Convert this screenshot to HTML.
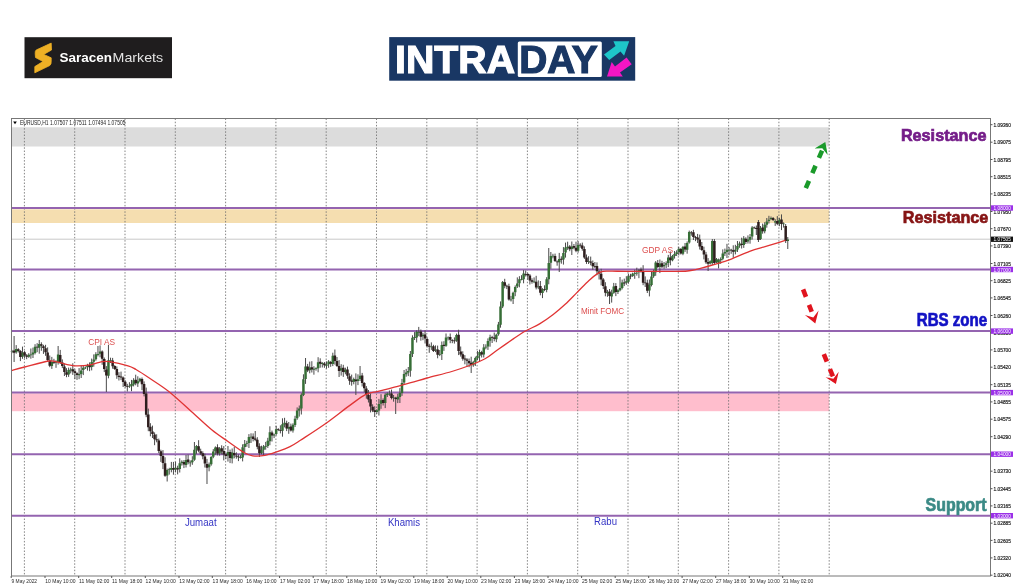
<!DOCTYPE html>
<html><head><meta charset="utf-8"><style>
html,body{margin:0;padding:0;background:#fff;width:1024px;height:587px;overflow:hidden}
svg{display:block;filter:blur(0.3px);font-family:"Liberation Sans",sans-serif}
</style></head><body>
<svg width="1024" height="587" viewBox="0 0 1024 587">
<rect width="1024" height="587" fill="#fff"/>
<!-- Saracen logo -->
<rect x="24.5" y="37.2" width="147.5" height="41" fill="#1f1d1e"/>
<path d="M51.2 43.1 L36.2 50 Q35 51 35.2 53.7 L35.5 57.5 L43 61.5 L34.8 66.6 L34.8 72.8 L49.8 65.5 Q51.5 64 51.2 61 L51.2 57.8 L43.7 54.4 L51.5 50 Z" fill="#eeb025" stroke="#eeb025" stroke-width="0.8" stroke-linejoin="round"/>
<text x="59.6" y="62" font-size="13.4" fill="#fff" font-weight="bold" textLength="52.5" lengthAdjust="spacingAndGlyphs">Saracen</text>
<text x="112.6" y="62" font-size="13.4" fill="#e4e4e4" textLength="50.5" lengthAdjust="spacingAndGlyphs">Markets</text>
<!-- Intraday logo -->
<rect x="389.2" y="37.1" width="246" height="43.6" fill="#193764"/>
<rect x="517.8" y="41.5" width="84" height="35.5" rx="1.5" fill="#fff"/>
<text x="395.1" y="72.6" font-size="39.5" font-weight="bold" fill="#fff" stroke="#fff" stroke-width="1.2" textLength="120" lengthAdjust="spacingAndGlyphs">INTRA</text>
<text x="519.3" y="72.7" font-size="39.5" font-weight="bold" fill="#193764" stroke="#193764" stroke-width="1.2" textLength="78.5" lengthAdjust="spacingAndGlyphs">DAY</text>
<path d="M604 54.5 L615.5 46 L613.4 41.2 L629.2 41.2 L624.1 55.7 L620.5 51.5 L609.2 60 Z" fill="#1ec6c9"/>
<path d="M631.7 64.2 L620 72.5 L622.8 76.6 L607 76.6 L611.7 62.1 L615 66.5 L626.6 57.4 Z" fill="#f516c4"/>
<!-- chart -->
<rect x="11.5" y="127.3" width="817.7" height="19.2" fill="#dcdcdc"/>
<rect x="11.5" y="209.3" width="817.7" height="13.7" fill="#f5deb0"/>
<rect x="11.5" y="393.3" width="817.7" height="17.9" fill="#ffbecd"/>
<g stroke="#707070" stroke-width="0.85" stroke-dasharray="1.5 1.7" fill="none"><line x1="24.4" y1="118.5" x2="24.4" y2="576"/><line x1="74.7" y1="118.5" x2="74.7" y2="576"/><line x1="125.0" y1="118.5" x2="125.0" y2="576"/><line x1="175.3" y1="118.5" x2="175.3" y2="576"/><line x1="225.6" y1="118.5" x2="225.6" y2="576"/><line x1="275.9" y1="118.5" x2="275.9" y2="576"/><line x1="326.2" y1="118.5" x2="326.2" y2="576"/><line x1="376.5" y1="118.5" x2="376.5" y2="576"/><line x1="426.8" y1="118.5" x2="426.8" y2="576"/><line x1="477.1" y1="118.5" x2="477.1" y2="576"/><line x1="527.4" y1="118.5" x2="527.4" y2="576"/><line x1="577.7" y1="118.5" x2="577.7" y2="576"/><line x1="628.0" y1="118.5" x2="628.0" y2="576"/><line x1="678.3" y1="118.5" x2="678.3" y2="576"/><line x1="728.6" y1="118.5" x2="728.6" y2="576"/><line x1="778.9" y1="118.5" x2="778.9" y2="576"/><line x1="829.2" y1="118.5" x2="829.2" y2="576"/></g>
<line x1="11.5" y1="239.2" x2="990.5" y2="239.2" stroke="#c8c8c8" stroke-width="1"/>
<g stroke="#9464b0" stroke-width="2" fill="none"><line x1="11.5" y1="208.0" x2="990.5" y2="208.0"/><line x1="11.5" y1="269.5" x2="990.5" y2="269.5"/><line x1="11.5" y1="331.1" x2="990.5" y2="331.1"/><line x1="11.5" y1="392.6" x2="990.5" y2="392.6"/><line x1="11.5" y1="454.2" x2="990.5" y2="454.2"/><line x1="11.5" y1="515.7" x2="990.5" y2="515.7"/></g>
<g stroke="#4a4a4a" stroke-width="1" fill="none"><path d="M12.00 349.9V353.2M14.10 336.0V362.0M16.19 345.1V353.7M18.29 348.2V352.5M20.39 350.1V361.1M22.48 346.6V358.8M24.58 350.8V358.4M26.68 354.1V359.2M28.77 353.2V357.8M30.87 348.5V358.7M32.97 347.6V358.0M35.06 344.2V354.4M37.16 343.2V352.2M39.26 340.0V353.7M41.35 342.3V350.8M43.45 344.8V353.9M45.55 344.8V355.8M47.64 347.4V361.6M49.74 355.5V367.2M51.84 356.9V368.9M53.93 358.8V364.0M56.03 360.3V367.8M58.13 346.0V364.6M60.22 349.9V364.0M62.32 359.4V368.1M64.42 363.5V376.0M66.51 368.2V377.2M68.61 367.6V376.9M70.71 367.6V373.4M72.80 363.3V374.9M74.90 369.3V379.1M77.00 372.3V379.9M79.09 368.1V379.2M81.19 365.5V378.0M83.29 365.2V375.1M85.38 366.5V369.0M87.48 363.8V370.6M89.58 362.4V371.2M91.67 358.6V370.4M93.77 354.4V366.7M95.87 352.2V360.7M97.96 346.0V356.4M100.06 345.4V357.3M102.16 350.4V364.8M104.25 357.5V372.1M106.35 366.1V392.0M108.45 345.0V378.3M110.54 357.7V363.0M112.64 357.9V368.7M114.74 365.1V369.9M116.83 366.4V378.8M118.93 372.2V380.5M121.03 371.6V380.1M123.13 376.5V387.0M125.22 380.3V387.6M127.32 383.8V391.5M129.42 382.2V387.9M131.51 379.9V391.2M133.61 378.2V386.4M135.71 374.7V385.3M137.80 376.3V386.9M139.90 377.8V382.3M142.00 377.5V390.2M144.09 381.4V396.4M146.19 387.6V417.2M148.29 408.6V431.2M150.38 423.2V436.3M152.48 425.6V438.0M154.58 432.4V445.2M156.67 434.3V442.3M158.77 438.6V453.1M160.87 449.7V461.9M162.96 450.1V469.1M165.06 457.3V476.8M167.16 468.6V481.5M169.25 467.8V474.6M171.35 461.9V472.3M173.45 461.9V474.7M175.54 461.8V472.4M177.64 465.7V474.4M179.74 458.3V472.5M181.83 460.3V465.6M183.93 460.1V468.1M186.03 455.0V467.5M188.12 454.6V464.3M190.22 460.4V466.7M192.32 456.2V464.8M194.41 442.0V460.8M196.51 445.1V453.8M198.61 440.2V452.3M200.70 448.7V455.0M202.80 451.3V459.3M204.90 453.6V467.5M206.99 458.9V484.0M209.09 462.5V471.3M211.19 456.1V465.7M213.28 449.1V458.2M215.38 446.4V454.7M217.48 444.3V455.4M219.57 447.1V455.6M221.67 445.3V454.4M223.77 446.1V460.4M225.86 453.2V459.1M227.96 446.0V461.6M230.06 449.6V463.1M232.15 448.5V463.4M234.25 446.9V458.3M236.35 452.3V458.7M238.44 454.4V461.1M240.54 455.1V458.6M242.64 444.3V461.4M244.73 440.0V452.9M246.83 440.8V446.8M248.93 434.1V448.0M251.02 433.3V443.0M253.12 433.4V441.4M255.22 431.0V441.2M257.31 437.2V449.3M259.41 443.3V457.0M261.51 445.7V454.3M263.60 445.0V455.8M265.70 441.9V449.7M267.80 437.8V447.9M269.89 426.3V445.2M271.99 430.6V441.5M274.09 433.6V438.1M276.18 425.8V435.6M278.28 428.2V431.1M280.38 425.3V433.4M282.47 418.3V436.7M284.57 417.8V427.4M286.67 420.7V431.1M288.76 422.0V433.8M290.86 423.6V431.5M292.96 423.3V432.6M295.05 415.8V427.0M297.15 407.4V419.8M299.25 405.5V416.6M301.34 393.2V414.5M303.44 374.3V396.1M305.54 358.0V383.9M307.63 363.9V372.1M309.73 361.6V373.3M311.83 361.2V372.5M313.92 366.2V374.7M316.02 367.3V370.7M318.12 357.2V372.3M320.21 358.3V367.7M322.31 362.1V367.5M324.41 362.0V367.8M326.50 361.4V368.7M328.60 360.1V367.8M330.70 360.9V366.8M332.80 352.7V366.1M334.89 349.5V364.6M336.99 357.0V367.0M339.09 360.1V377.0M341.18 364.2V375.6M343.28 364.8V376.9M345.38 367.7V374.3M347.47 366.6V378.8M349.57 373.3V384.8M351.67 374.6V385.7M353.76 377.6V384.3M355.86 373.4V395.0M357.96 374.3V385.1M360.05 366.0V381.0M362.15 372.9V386.5M364.25 382.1V392.3M366.34 386.1V398.7M368.44 390.0V402.5M370.54 393.3V412.4M372.63 404.3V412.1M374.73 406.3V417.0M376.83 409.3V413.9M378.92 398.9V415.5M381.02 394.2V408.8M383.12 398.4V405.5M385.21 393.2V408.1M387.31 392.4V397.0M389.41 390.5V395.8M391.50 389.6V399.4M393.60 395.0V401.7M395.70 396.8V414.0M397.79 393.7V403.1M399.89 388.1V403.0M401.99 378.9V395.9M404.08 370.0V384.0M406.18 368.9V376.7M408.28 367.0V376.1M410.37 351.0V376.7M412.47 335.3V357.0M414.57 332.1V340.0M416.66 330.3V342.5M418.76 326.9V336.2M420.86 329.5V340.7M422.95 332.8V340.2M425.05 330.4V343.5M427.15 337.4V347.4M429.24 343.8V352.8M431.34 342.4V349.9M433.44 344.8V352.0M435.53 345.4V352.1M437.63 345.6V358.3M439.73 350.0V356.1M441.82 341.5V360.0M443.92 341.2V350.9M446.02 333.5V346.8M448.11 336.4V340.4M450.21 333.5V343.2M452.31 339.2V343.2M454.40 337.4V343.6M456.50 333.6V341.8M458.60 329.7V355.1M460.69 346.5V356.6M462.79 351.3V360.7M464.89 355.1V364.3M466.98 358.1V367.0M469.08 358.5V367.2M471.18 356.7V373.0M473.27 360.8V366.8M475.37 356.6V365.9M477.47 350.9V360.3M479.56 349.6V361.8M481.66 350.8V357.5M483.76 344.1V357.5M485.85 344.3V349.3M487.95 338.4V349.9M490.05 334.7V346.7M492.14 335.8V343.0M494.24 332.6V341.3M496.34 333.7V342.2M498.43 321.9V335.7M500.53 301.4V327.7M502.63 281.0V308.1M504.72 278.8V288.3M506.82 284.7V289.1M508.92 283.7V300.6M511.01 295.9V301.5M513.11 291.7V304.0M515.21 285.4V296.2M517.30 277.4V288.0M519.40 276.2V287.3M521.50 275.2V280.3M523.59 270.1V283.3M525.69 270.5V276.5M527.79 272.9V279.5M529.88 274.0V284.5M531.98 278.3V283.7M534.08 277.4V283.2M536.17 275.8V289.4M538.27 280.4V289.2M540.37 281.0V295.3M542.47 288.2V298.1M544.56 285.3V291.2M546.66 277.2V292.3M548.76 248.0V284.3M550.85 252.0V268.8M552.95 253.8V258.3M555.05 253.6V262.0M557.14 260.4V265.7M559.24 252.9V272.0M561.34 256.3V263.7M563.43 247.1V264.6M565.53 242.6V257.6M567.63 241.7V249.9M569.72 245.1V251.2M571.82 241.5V255.0M573.92 244.0V249.3M576.01 241.7V252.2M578.11 241.1V252.7M580.21 243.2V247.7M582.30 242.6V250.7M584.40 246.4V258.9M586.50 254.5V263.9M588.59 256.2V264.0M590.69 256.6V265.3M592.79 260.5V269.8M594.88 262.0V268.1M596.98 262.4V275.2M599.08 270.0V279.5M601.17 268.8V285.4M603.27 278.1V289.1M605.37 282.2V296.3M607.46 289.9V296.8M609.56 289.0V304.0M611.66 289.7V302.6M613.75 282.9V293.8M615.85 283.1V296.1M617.95 289.2V294.0M620.04 277.0V291.3M622.14 279.6V289.4M624.24 278.6V286.1M626.33 276.2V284.8M628.43 273.7V283.7M630.53 273.8V279.2M632.62 272.7V276.9M634.72 269.7V278.8M636.82 267.7V275.7M638.91 268.9V278.2M641.01 267.5V272.6M643.11 265.2V285.2M645.20 276.4V287.0M647.30 279.7V293.0M649.40 279.5V296.4M651.49 271.4V286.4M653.59 269.6V277.8M655.69 261.1V275.8M657.78 260.0V268.1M659.88 259.5V273.1M661.98 260.8V268.3M664.07 262.0V268.8M666.17 261.3V268.2M668.27 254.9V267.1M670.36 251.5V265.3M672.46 254.9V261.3M674.56 251.0V258.6M676.65 250.3V256.0M678.75 246.8V255.4M680.85 248.0V254.5M682.94 245.9V255.2M685.04 243.0V251.9M687.14 241.4V253.7M689.23 230.6V243.6M691.33 231.0V235.7M693.43 229.8V240.0M695.52 235.9V241.2M697.62 233.9V243.0M699.72 234.6V249.5M701.81 242.0V250.9M703.91 246.7V259.4M706.01 251.9V263.8M708.10 258.1V271.0M710.20 260.3V264.5M712.30 239.0V265.0M714.39 239.0V265.0M716.49 258.0V263.0M718.59 258.6V268.4M720.68 257.4V263.8M722.78 249.4V260.3M724.88 248.6V256.0M726.97 243.8V258.0M729.07 247.2V255.2M731.17 248.8V253.8M733.26 245.3V257.8M735.36 244.8V254.4M737.46 241.0V252.0M739.55 241.5V247.8M741.65 237.7V248.5M743.75 236.1V247.9M745.84 237.3V244.0M747.94 235.4V243.6M750.04 234.0V243.7M752.14 226.1V239.6M754.23 226.5V228.7M756.33 225.5V235.0M758.43 220.0V242.0M760.52 226.0V240.0M762.62 223.6V233.7M764.72 222.2V233.3M766.81 218.0V227.7M768.91 215.8V223.6M771.01 216.5V220.0M773.10 217.0V221.0M775.20 219.2V225.9M777.30 216.1V225.2M779.39 217.8V226.2M781.49 214.4V230.1M783.59 222.4V227.6M785.68 224.0V243.0M787.78 237.0V249.0"/></g>
<path d="M10.75 350.9h2.5V351.7h-2.5ZM14.94 349.1h2.5V352.2h-2.5ZM21.23 352.6h2.5V356.8h-2.5ZM27.52 354.7h2.5V356.8h-2.5ZM29.62 354.5h2.5V355.3h-2.5ZM31.72 352.6h2.5V354.5h-2.5ZM33.81 346.7h2.5V352.9h-2.5ZM38.01 344.1h2.5V347.7h-2.5ZM50.59 361.9h2.5V365.9h-2.5ZM54.78 361.8h2.5V362.8h-2.5ZM56.88 354.5h2.5V362.1h-2.5ZM67.36 370.1h2.5V374.4h-2.5ZM69.46 369.6h2.5V370.4h-2.5ZM77.84 374.1h2.5V375.2h-2.5ZM79.94 370.5h2.5V374.0h-2.5ZM82.04 367.7h2.5V370.1h-2.5ZM84.13 367.5h2.5V368.3h-2.5ZM86.23 365.3h2.5V367.1h-2.5ZM90.42 362.1h2.5V366.9h-2.5ZM92.52 359.4h2.5V361.7h-2.5ZM94.62 354.2h2.5V359.2h-2.5ZM96.71 354.1h2.5V354.9h-2.5ZM98.81 351.4h2.5V353.8h-2.5ZM107.20 360.3h2.5V375.8h-2.5ZM109.29 360.2h2.5V361.0h-2.5ZM128.17 385.7h2.5V386.5h-2.5ZM130.26 383.9h2.5V386.2h-2.5ZM132.36 380.2h2.5V384.4h-2.5ZM136.55 381.3h2.5V383.4h-2.5ZM138.65 378.8h2.5V381.3h-2.5ZM165.91 470.1h2.5V475.5h-2.5ZM168.00 469.3h2.5V470.1h-2.5ZM170.10 467.9h2.5V469.8h-2.5ZM174.29 467.8h2.5V469.4h-2.5ZM178.49 463.3h2.5V469.0h-2.5ZM180.58 461.8h2.5V463.1h-2.5ZM184.78 460.0h2.5V465.0h-2.5ZM188.97 462.4h2.5V463.2h-2.5ZM191.07 460.2h2.5V462.3h-2.5ZM193.16 449.8h2.5V459.8h-2.5ZM195.26 446.1h2.5V449.8h-2.5ZM207.84 464.5h2.5V467.3h-2.5ZM209.94 457.1h2.5V464.2h-2.5ZM212.03 451.6h2.5V456.7h-2.5ZM214.13 447.4h2.5V451.2h-2.5ZM218.32 448.6h2.5V453.6h-2.5ZM226.71 452.0h2.5V455.6h-2.5ZM230.90 452.5h2.5V458.4h-2.5ZM239.29 457.1h2.5V457.9h-2.5ZM241.39 447.3h2.5V457.4h-2.5ZM243.48 444.0h2.5V446.9h-2.5ZM245.58 443.3h2.5V444.1h-2.5ZM247.68 437.1h2.5V443.0h-2.5ZM249.77 436.8h2.5V437.6h-2.5ZM260.26 449.7h2.5V453.3h-2.5ZM262.35 446.5h2.5V449.8h-2.5ZM264.45 445.9h2.5V446.7h-2.5ZM266.55 440.8h2.5V445.9h-2.5ZM268.64 432.3h2.5V441.2h-2.5ZM272.84 434.6h2.5V435.6h-2.5ZM274.93 429.3h2.5V434.1h-2.5ZM281.22 424.3h2.5V430.7h-2.5ZM283.32 422.8h2.5V424.4h-2.5ZM287.51 427.0h2.5V428.8h-2.5ZM291.71 424.8h2.5V430.6h-2.5ZM293.80 418.8h2.5V425.0h-2.5ZM295.90 410.4h2.5V418.3h-2.5ZM298.00 408.5h2.5V410.6h-2.5ZM300.09 394.7h2.5V408.5h-2.5ZM302.19 379.3h2.5V395.1h-2.5ZM304.29 366.5h2.5V378.9h-2.5ZM308.48 367.6h2.5V370.3h-2.5ZM312.67 368.7h2.5V369.7h-2.5ZM314.77 368.3h2.5V369.1h-2.5ZM316.87 362.2h2.5V368.3h-2.5ZM321.06 363.1h2.5V364.0h-2.5ZM325.25 364.4h2.5V365.7h-2.5ZM327.35 361.6h2.5V364.3h-2.5ZM331.55 355.7h2.5V364.1h-2.5ZM339.93 368.2h2.5V370.6h-2.5ZM344.13 369.7h2.5V372.3h-2.5ZM352.51 379.1h2.5V381.8h-2.5ZM356.71 379.3h2.5V381.1h-2.5ZM358.80 375.8h2.5V379.0h-2.5ZM375.58 410.3h2.5V411.9h-2.5ZM377.67 403.9h2.5V410.5h-2.5ZM379.77 400.2h2.5V403.8h-2.5ZM383.96 394.7h2.5V403.1h-2.5ZM386.06 393.4h2.5V395.0h-2.5ZM388.16 393.5h2.5V394.3h-2.5ZM392.35 397.5h2.5V398.3h-2.5ZM396.54 396.7h2.5V399.6h-2.5ZM398.64 393.1h2.5V397.0h-2.5ZM400.74 382.9h2.5V392.9h-2.5ZM402.83 374.0h2.5V382.5h-2.5ZM404.93 372.4h2.5V374.2h-2.5ZM407.03 371.0h2.5V372.6h-2.5ZM409.12 354.0h2.5V370.7h-2.5ZM411.22 337.8h2.5V354.0h-2.5ZM413.32 337.1h2.5V337.9h-2.5ZM415.41 331.8h2.5V337.5h-2.5ZM417.51 331.9h2.5V332.7h-2.5ZM421.70 334.8h2.5V336.2h-2.5ZM430.09 346.4h2.5V347.2h-2.5ZM434.28 349.4h2.5V350.6h-2.5ZM438.48 354.0h2.5V354.8h-2.5ZM440.57 345.0h2.5V354.0h-2.5ZM444.77 337.5h2.5V345.8h-2.5ZM446.86 337.4h2.5V338.2h-2.5ZM455.25 335.1h2.5V340.8h-2.5ZM472.02 362.3h2.5V365.3h-2.5ZM474.12 358.1h2.5V361.9h-2.5ZM476.22 355.9h2.5V358.3h-2.5ZM478.31 352.1h2.5V355.8h-2.5ZM482.51 347.6h2.5V354.5h-2.5ZM484.60 346.8h2.5V347.6h-2.5ZM486.70 340.9h2.5V346.4h-2.5ZM488.80 337.2h2.5V340.7h-2.5ZM495.09 334.7h2.5V339.2h-2.5ZM497.18 324.4h2.5V334.2h-2.5ZM499.28 306.4h2.5V324.7h-2.5ZM501.38 282.0h2.5V306.6h-2.5ZM509.76 299.4h2.5V300.2h-2.5ZM511.86 292.7h2.5V299.0h-2.5ZM513.96 286.9h2.5V292.2h-2.5ZM516.05 283.4h2.5V286.5h-2.5ZM518.15 279.2h2.5V283.3h-2.5ZM520.25 279.2h2.5V280.0h-2.5ZM522.34 273.6h2.5V279.3h-2.5ZM532.83 281.4h2.5V282.2h-2.5ZM537.02 286.4h2.5V287.2h-2.5ZM541.22 289.2h2.5V293.1h-2.5ZM545.41 279.2h2.5V289.8h-2.5ZM547.51 263.1h2.5V279.3h-2.5ZM549.60 256.0h2.5V262.8h-2.5ZM551.70 255.8h2.5V256.6h-2.5ZM557.99 258.9h2.5V262.3h-2.5ZM562.18 253.1h2.5V259.6h-2.5ZM564.28 247.6h2.5V252.6h-2.5ZM566.38 246.7h2.5V247.9h-2.5ZM570.57 246.5h2.5V249.0h-2.5ZM576.86 245.1h2.5V250.7h-2.5ZM587.34 261.2h2.5V262.0h-2.5ZM606.21 291.9h2.5V293.3h-2.5ZM610.41 292.7h2.5V296.6h-2.5ZM612.50 286.4h2.5V292.8h-2.5ZM616.70 290.2h2.5V292.0h-2.5ZM618.79 287.9h2.5V290.3h-2.5ZM620.89 282.6h2.5V287.9h-2.5ZM625.08 281.2h2.5V282.8h-2.5ZM627.18 276.2h2.5V281.7h-2.5ZM631.37 273.7h2.5V275.9h-2.5ZM633.47 273.2h2.5V274.0h-2.5ZM635.57 272.7h2.5V273.5h-2.5ZM637.66 269.9h2.5V272.2h-2.5ZM648.15 284.5h2.5V290.4h-2.5ZM650.24 276.4h2.5V284.9h-2.5ZM652.34 272.1h2.5V276.3h-2.5ZM654.44 262.6h2.5V272.3h-2.5ZM658.63 263.5h2.5V267.1h-2.5ZM662.82 265.0h2.5V266.3h-2.5ZM664.92 263.3h2.5V264.7h-2.5ZM667.02 257.4h2.5V263.1h-2.5ZM671.21 255.9h2.5V260.3h-2.5ZM673.31 254.0h2.5V256.1h-2.5ZM675.40 252.3h2.5V254.0h-2.5ZM677.50 248.8h2.5V251.9h-2.5ZM681.69 246.9h2.5V253.7h-2.5ZM685.89 242.9h2.5V249.7h-2.5ZM687.98 232.1h2.5V242.6h-2.5ZM708.95 261.3h2.5V263.5h-2.5ZM711.05 241.0h2.5V263.0h-2.5ZM715.24 259.0h2.5V262.0h-2.5ZM717.34 260.1h2.5V263.4h-2.5ZM719.43 258.9h2.5V260.3h-2.5ZM721.53 253.4h2.5V258.8h-2.5ZM723.63 252.1h2.5V253.5h-2.5ZM725.72 249.8h2.5V252.0h-2.5ZM727.82 249.7h2.5V250.5h-2.5ZM734.11 249.8h2.5V251.4h-2.5ZM736.21 246.0h2.5V249.5h-2.5ZM738.30 243.5h2.5V245.8h-2.5ZM742.50 238.6h2.5V244.9h-2.5ZM746.69 239.4h2.5V241.6h-2.5ZM748.79 237.0h2.5V239.7h-2.5ZM750.89 227.6h2.5V236.6h-2.5ZM759.27 228.0h2.5V239.0h-2.5ZM763.47 224.7h2.5V231.3h-2.5ZM765.56 221.5h2.5V224.7h-2.5ZM767.66 219.8h2.5V221.1h-2.5ZM769.76 218.0h2.5V219.0h-2.5ZM773.95 221.2h2.5V222.4h-2.5ZM778.14 219.8h2.5V223.7h-2.5ZM782.34 223.4h2.5V224.2h-2.5ZM786.53 239.5h2.5V241.0h-2.5Z" fill="#366e36"/>
<path d="M12.85 350.5h2.5V352.7h-2.5ZM17.04 349.2h2.5V351.0h-2.5ZM19.14 351.1h2.5V357.1h-2.5ZM23.33 352.3h2.5V355.4h-2.5ZM25.43 355.6h2.5V356.7h-2.5ZM35.91 346.7h2.5V347.5h-2.5ZM40.10 344.3h2.5V345.8h-2.5ZM42.20 346.3h2.5V347.9h-2.5ZM44.30 348.3h2.5V352.3h-2.5ZM46.39 352.4h2.5V360.1h-2.5ZM48.49 360.5h2.5V365.7h-2.5ZM52.68 362.3h2.5V363.1h-2.5ZM58.97 354.9h2.5V362.5h-2.5ZM61.07 362.4h2.5V366.1h-2.5ZM63.17 366.5h2.5V372.0h-2.5ZM65.26 372.2h2.5V374.7h-2.5ZM71.55 369.3h2.5V371.4h-2.5ZM73.65 371.3h2.5V373.1h-2.5ZM75.75 373.3h2.5V374.9h-2.5ZM88.33 364.9h2.5V367.2h-2.5ZM100.91 351.4h2.5V358.8h-2.5ZM103.00 359.0h2.5V369.1h-2.5ZM105.10 369.6h2.5V375.5h-2.5ZM111.39 360.4h2.5V366.2h-2.5ZM113.49 366.1h2.5V368.9h-2.5ZM115.58 368.9h2.5V375.3h-2.5ZM117.68 375.7h2.5V377.0h-2.5ZM119.78 376.6h2.5V377.6h-2.5ZM121.88 377.5h2.5V382.0h-2.5ZM123.97 381.8h2.5V386.1h-2.5ZM126.07 386.3h2.5V387.1h-2.5ZM134.46 379.7h2.5V383.3h-2.5ZM140.75 379.0h2.5V384.2h-2.5ZM142.84 383.9h2.5V393.9h-2.5ZM144.94 393.6h2.5V414.7h-2.5ZM147.04 414.6h2.5V427.2h-2.5ZM149.13 426.7h2.5V431.3h-2.5ZM151.23 431.6h2.5V434.0h-2.5ZM153.33 434.4h2.5V439.2h-2.5ZM155.42 439.3h2.5V440.3h-2.5ZM157.52 440.6h2.5V451.1h-2.5ZM159.62 451.2h2.5V455.9h-2.5ZM161.71 456.1h2.5V463.1h-2.5ZM163.81 463.3h2.5V475.8h-2.5ZM172.20 467.9h2.5V469.7h-2.5ZM176.39 468.2h2.5V469.4h-2.5ZM182.68 462.1h2.5V464.6h-2.5ZM186.87 459.6h2.5V462.3h-2.5ZM197.36 446.2h2.5V450.8h-2.5ZM199.45 451.2h2.5V453.5h-2.5ZM201.55 453.3h2.5V456.3h-2.5ZM203.65 456.6h2.5V463.5h-2.5ZM205.74 463.9h2.5V467.7h-2.5ZM216.23 447.3h2.5V453.4h-2.5ZM220.42 448.3h2.5V451.4h-2.5ZM222.52 451.1h2.5V454.4h-2.5ZM224.61 454.2h2.5V456.1h-2.5ZM228.81 452.1h2.5V458.1h-2.5ZM233.00 452.9h2.5V455.3h-2.5ZM235.10 455.8h2.5V456.6h-2.5ZM237.19 456.4h2.5V457.2h-2.5ZM251.87 436.4h2.5V438.9h-2.5ZM253.97 438.4h2.5V439.7h-2.5ZM256.06 439.7h2.5V446.8h-2.5ZM258.16 446.3h2.5V453.3h-2.5ZM270.74 432.6h2.5V435.5h-2.5ZM277.03 429.2h2.5V430.1h-2.5ZM279.13 430.3h2.5V431.1h-2.5ZM285.42 423.2h2.5V428.6h-2.5ZM289.61 426.6h2.5V430.5h-2.5ZM306.38 366.4h2.5V370.6h-2.5ZM310.58 367.2h2.5V369.5h-2.5ZM318.96 361.8h2.5V363.7h-2.5ZM323.16 363.5h2.5V365.3h-2.5ZM329.45 361.9h2.5V363.8h-2.5ZM333.64 355.5h2.5V361.1h-2.5ZM335.74 361.0h2.5V366.0h-2.5ZM337.84 366.1h2.5V371.0h-2.5ZM342.03 367.8h2.5V371.9h-2.5ZM346.22 369.6h2.5V375.8h-2.5ZM348.32 376.3h2.5V380.8h-2.5ZM350.42 380.6h2.5V381.7h-2.5ZM354.61 379.4h2.5V381.3h-2.5ZM360.90 375.4h2.5V383.0h-2.5ZM363.00 383.1h2.5V388.3h-2.5ZM365.09 388.6h2.5V394.7h-2.5ZM367.19 395.0h2.5V399.5h-2.5ZM369.29 399.3h2.5V406.4h-2.5ZM371.38 406.8h2.5V410.6h-2.5ZM373.48 410.3h2.5V412.0h-2.5ZM381.87 399.9h2.5V403.0h-2.5ZM390.25 393.6h2.5V397.9h-2.5ZM394.45 397.8h2.5V399.1h-2.5ZM419.61 331.5h2.5V336.7h-2.5ZM423.80 334.4h2.5V338.5h-2.5ZM425.90 338.9h2.5V345.9h-2.5ZM427.99 345.8h2.5V346.8h-2.5ZM432.19 346.3h2.5V351.0h-2.5ZM436.38 349.6h2.5V354.8h-2.5ZM442.67 344.7h2.5V345.9h-2.5ZM448.96 337.0h2.5V339.7h-2.5ZM451.06 340.2h2.5V341.0h-2.5ZM453.15 340.4h2.5V341.2h-2.5ZM457.35 334.7h2.5V351.1h-2.5ZM459.44 351.5h2.5V354.6h-2.5ZM461.54 354.3h2.5V358.7h-2.5ZM463.64 358.6h2.5V359.4h-2.5ZM465.73 359.6h2.5V360.8h-2.5ZM467.83 361.0h2.5V363.2h-2.5ZM469.93 362.7h2.5V364.9h-2.5ZM480.41 352.3h2.5V354.5h-2.5ZM490.89 337.3h2.5V338.1h-2.5ZM492.99 337.6h2.5V338.8h-2.5ZM503.47 282.3h2.5V285.8h-2.5ZM505.57 285.7h2.5V286.6h-2.5ZM507.67 286.2h2.5V299.6h-2.5ZM524.44 274.0h2.5V274.8h-2.5ZM526.54 273.9h2.5V275.5h-2.5ZM528.63 275.5h2.5V280.5h-2.5ZM530.73 280.3h2.5V281.7h-2.5ZM534.92 281.8h2.5V287.4h-2.5ZM539.12 286.0h2.5V292.8h-2.5ZM543.31 289.3h2.5V290.1h-2.5ZM553.80 256.1h2.5V261.0h-2.5ZM555.89 261.4h2.5V262.2h-2.5ZM560.09 258.8h2.5V259.7h-2.5ZM568.47 246.6h2.5V249.2h-2.5ZM572.67 246.0h2.5V247.8h-2.5ZM574.76 247.7h2.5V250.7h-2.5ZM578.96 244.7h2.5V245.5h-2.5ZM581.05 245.6h2.5V248.7h-2.5ZM583.15 248.9h2.5V257.4h-2.5ZM585.25 257.5h2.5V261.9h-2.5ZM589.44 261.6h2.5V262.8h-2.5ZM591.54 263.0h2.5V266.3h-2.5ZM593.63 266.0h2.5V266.8h-2.5ZM595.73 265.9h2.5V271.2h-2.5ZM597.83 271.5h2.5V273.5h-2.5ZM599.92 273.8h2.5V279.4h-2.5ZM602.02 279.6h2.5V286.1h-2.5ZM604.12 286.2h2.5V292.8h-2.5ZM608.31 291.5h2.5V296.1h-2.5ZM614.60 286.1h2.5V292.1h-2.5ZM622.99 282.6h2.5V283.4h-2.5ZM629.28 275.8h2.5V276.6h-2.5ZM639.76 269.5h2.5V271.6h-2.5ZM641.86 271.2h2.5V282.7h-2.5ZM643.95 282.4h2.5V283.2h-2.5ZM646.05 282.7h2.5V290.8h-2.5ZM656.53 263.0h2.5V267.1h-2.5ZM660.73 263.3h2.5V266.8h-2.5ZM669.11 257.5h2.5V260.3h-2.5ZM679.60 249.0h2.5V253.5h-2.5ZM683.79 246.5h2.5V249.4h-2.5ZM690.08 232.5h2.5V233.3h-2.5ZM692.18 232.3h2.5V237.0h-2.5ZM694.27 236.9h2.5V237.7h-2.5ZM696.37 237.4h2.5V239.5h-2.5ZM698.47 239.6h2.5V246.5h-2.5ZM700.56 246.0h2.5V249.9h-2.5ZM702.66 250.2h2.5V254.4h-2.5ZM704.76 254.4h2.5V262.3h-2.5ZM706.85 262.1h2.5V263.7h-2.5ZM713.14 241.0h2.5V263.0h-2.5ZM729.92 249.8h2.5V250.6h-2.5ZM732.01 250.3h2.5V251.8h-2.5ZM740.40 243.7h2.5V245.0h-2.5ZM744.59 238.8h2.5V242.0h-2.5ZM752.98 227.5h2.5V228.3h-2.5ZM755.08 228.0h2.5V229.0h-2.5ZM757.18 222.0h2.5V240.0h-2.5ZM761.37 227.6h2.5V231.2h-2.5ZM771.85 218.0h2.5V220.0h-2.5ZM776.05 221.1h2.5V223.7h-2.5ZM780.24 219.4h2.5V224.1h-2.5ZM784.43 226.0h2.5V241.0h-2.5Z" fill="#2e1e1e"/>
<path d="M11.5 370.6 C13.7 370.0 18.5 368.6 24.7 367.0 C30.9 365.4 43.1 361.8 48.6 361.0 C54.1 360.2 53.6 361.4 58.0 362.2 C62.4 363.0 69.2 365.4 74.8 365.8 C80.4 366.2 87.1 365.3 91.5 364.6 C95.9 363.9 98.0 362.3 101.0 361.8 C104.0 361.3 104.9 360.9 109.4 361.6 C113.9 362.3 123.6 364.5 128.0 365.8 C132.4 367.1 132.3 367.4 136.0 369.5 C139.7 371.6 144.5 374.8 150.0 378.5 C155.5 382.2 161.9 386.0 168.8 391.5 C175.7 397.0 184.2 405.1 191.3 411.5 C198.5 417.9 205.6 424.8 211.7 429.8 C217.8 434.8 222.6 437.7 228.0 441.5 C233.4 445.3 240.3 450.4 244.4 452.8 C248.5 455.2 249.2 455.4 252.6 455.8 C256.0 456.2 260.8 456.1 264.9 455.4 C269.0 454.7 272.9 453.2 277.1 451.7 C281.3 450.2 286.1 448.5 290.0 446.6 C293.9 444.7 294.6 444.1 300.4 440.3 C306.2 436.5 316.8 429.8 325.0 424.0 C333.2 418.2 342.7 410.5 349.5 405.6 C356.3 400.7 361.1 396.8 365.8 394.4 C370.6 392.0 373.2 392.5 378.0 391.3 C382.8 390.1 388.9 388.6 394.4 387.2 C399.9 385.8 405.4 384.2 410.8 382.7 C416.2 381.2 420.2 379.9 427.0 378.0 C433.8 376.1 444.5 373.7 451.8 371.5 C459.1 369.3 465.3 367.1 470.9 365.0 C476.4 362.9 480.8 361.2 485.1 358.8 C489.5 356.4 492.2 353.7 497.0 350.3 C501.8 346.9 509.2 341.7 514.0 338.4 C518.8 335.1 521.7 333.1 526.0 330.7 C530.3 328.3 535.1 326.6 539.6 323.9 C544.1 321.2 548.9 317.8 553.2 314.5 C557.5 311.2 561.2 308.0 565.2 304.3 C569.2 300.6 573.1 296.4 577.1 292.4 C581.1 288.4 585.6 283.5 589.0 280.4 C592.4 277.3 595.2 275.1 597.5 273.6 C599.8 272.1 600.6 271.7 603.0 271.3 C605.4 270.9 607.9 271.2 612.0 271.2 C616.1 271.2 619.8 271.3 627.6 271.3 C635.4 271.3 648.6 271.4 658.6 271.3 C668.6 271.2 679.4 271.8 687.5 271.0 C695.6 270.2 700.4 268.4 707.4 266.5 C714.4 264.6 722.2 262.4 729.2 259.9 C736.2 257.4 743.4 253.6 749.6 251.3 C755.9 249.0 760.7 248.0 766.7 246.2 C772.7 244.4 782.3 241.3 785.4 240.3" stroke="#e03434" stroke-width="1.3" fill="none" stroke-linejoin="round"/>
<rect x="11.5" y="118.5" width="979.0" height="457.5" fill="none" stroke="#777" stroke-width="1"/>
<!-- header -->
<path d="M13.2 121.6 L16.8 121.6 L15 124.2 Z" fill="#000"/>
<text x="20" y="125.1" font-size="6.5" fill="#222" textLength="105.4" lengthAdjust="spacingAndGlyphs">EURUSD,H1  1.07507 1.07511 1.07494 1.07505</text>
<!-- axis labels -->
<g font-size="6" fill="#1a1a1a" stroke="none"><g stroke="#555" stroke-width="1"><line x1="990.5" y1="124.7" x2="992.5" y2="124.7"/><text stroke="#1a1a1a" stroke-width="0.2" x="993.6" y="126.8" textLength="17.3" lengthAdjust="spacingAndGlyphs">1.09360</text><line x1="990.5" y1="142.2" x2="992.5" y2="142.2"/><text stroke="#1a1a1a" stroke-width="0.2" x="993.6" y="144.3" textLength="17.3" lengthAdjust="spacingAndGlyphs">1.09075</text><line x1="990.5" y1="159.5" x2="992.5" y2="159.5"/><text stroke="#1a1a1a" stroke-width="0.2" x="993.6" y="161.6" textLength="17.3" lengthAdjust="spacingAndGlyphs">1.08795</text><line x1="990.5" y1="176.7" x2="992.5" y2="176.7"/><text stroke="#1a1a1a" stroke-width="0.2" x="993.6" y="178.8" textLength="17.3" lengthAdjust="spacingAndGlyphs">1.08515</text><line x1="990.5" y1="193.9" x2="992.5" y2="193.9"/><text stroke="#1a1a1a" stroke-width="0.2" x="993.6" y="196.0" textLength="17.3" lengthAdjust="spacingAndGlyphs">1.08235</text><line x1="990.5" y1="211.5" x2="992.5" y2="211.5"/><text stroke="#1a1a1a" stroke-width="0.2" x="993.6" y="213.6" textLength="17.3" lengthAdjust="spacingAndGlyphs">1.07950</text><line x1="990.5" y1="228.7" x2="992.5" y2="228.7"/><text stroke="#1a1a1a" stroke-width="0.2" x="993.6" y="230.8" textLength="17.3" lengthAdjust="spacingAndGlyphs">1.07670</text><line x1="990.5" y1="245.9" x2="992.5" y2="245.9"/><text stroke="#1a1a1a" stroke-width="0.2" x="993.6" y="248.0" textLength="17.3" lengthAdjust="spacingAndGlyphs">1.07390</text><line x1="990.5" y1="263.5" x2="992.5" y2="263.5"/><text stroke="#1a1a1a" stroke-width="0.2" x="993.6" y="265.6" textLength="17.3" lengthAdjust="spacingAndGlyphs">1.07105</text><line x1="990.5" y1="280.7" x2="992.5" y2="280.7"/><text stroke="#1a1a1a" stroke-width="0.2" x="993.6" y="282.8" textLength="17.3" lengthAdjust="spacingAndGlyphs">1.06825</text><line x1="990.5" y1="297.9" x2="992.5" y2="297.9"/><text stroke="#1a1a1a" stroke-width="0.2" x="993.6" y="300.0" textLength="17.3" lengthAdjust="spacingAndGlyphs">1.06545</text><line x1="990.5" y1="315.5" x2="992.5" y2="315.5"/><text stroke="#1a1a1a" stroke-width="0.2" x="993.6" y="317.6" textLength="17.3" lengthAdjust="spacingAndGlyphs">1.06260</text><line x1="990.5" y1="332.7" x2="992.5" y2="332.7"/><text stroke="#1a1a1a" stroke-width="0.2" x="993.6" y="334.8" textLength="17.3" lengthAdjust="spacingAndGlyphs">1.05980</text><line x1="990.5" y1="349.9" x2="992.5" y2="349.9"/><text stroke="#1a1a1a" stroke-width="0.2" x="993.6" y="352.0" textLength="17.3" lengthAdjust="spacingAndGlyphs">1.05700</text><line x1="990.5" y1="367.2" x2="992.5" y2="367.2"/><text stroke="#1a1a1a" stroke-width="0.2" x="993.6" y="369.3" textLength="17.3" lengthAdjust="spacingAndGlyphs">1.05420</text><line x1="990.5" y1="384.7" x2="992.5" y2="384.7"/><text stroke="#1a1a1a" stroke-width="0.2" x="993.6" y="386.8" textLength="17.3" lengthAdjust="spacingAndGlyphs">1.05135</text><line x1="990.5" y1="401.9" x2="992.5" y2="401.9"/><text stroke="#1a1a1a" stroke-width="0.2" x="993.6" y="404.0" textLength="17.3" lengthAdjust="spacingAndGlyphs">1.04855</text><line x1="990.5" y1="419.2" x2="992.5" y2="419.2"/><text stroke="#1a1a1a" stroke-width="0.2" x="993.6" y="421.3" textLength="17.3" lengthAdjust="spacingAndGlyphs">1.04575</text><line x1="990.5" y1="436.7" x2="992.5" y2="436.7"/><text stroke="#1a1a1a" stroke-width="0.2" x="993.6" y="438.8" textLength="17.3" lengthAdjust="spacingAndGlyphs">1.04290</text><line x1="990.5" y1="453.9" x2="992.5" y2="453.9"/><text stroke="#1a1a1a" stroke-width="0.2" x="993.6" y="456.0" textLength="17.3" lengthAdjust="spacingAndGlyphs">1.04010</text><line x1="990.5" y1="471.2" x2="992.5" y2="471.2"/><text stroke="#1a1a1a" stroke-width="0.2" x="993.6" y="473.3" textLength="17.3" lengthAdjust="spacingAndGlyphs">1.03730</text><line x1="990.5" y1="488.7" x2="992.5" y2="488.7"/><text stroke="#1a1a1a" stroke-width="0.2" x="993.6" y="490.8" textLength="17.3" lengthAdjust="spacingAndGlyphs">1.03445</text><line x1="990.5" y1="505.9" x2="992.5" y2="505.9"/><text stroke="#1a1a1a" stroke-width="0.2" x="993.6" y="508.0" textLength="17.3" lengthAdjust="spacingAndGlyphs">1.03165</text><line x1="990.5" y1="523.2" x2="992.5" y2="523.2"/><text stroke="#1a1a1a" stroke-width="0.2" x="993.6" y="525.3" textLength="17.3" lengthAdjust="spacingAndGlyphs">1.02885</text><line x1="990.5" y1="540.4" x2="992.5" y2="540.4"/><text stroke="#1a1a1a" stroke-width="0.2" x="993.6" y="542.5" textLength="17.3" lengthAdjust="spacingAndGlyphs">1.02605</text><line x1="990.5" y1="557.9" x2="992.5" y2="557.9"/><text stroke="#1a1a1a" stroke-width="0.2" x="993.6" y="560.0" textLength="17.3" lengthAdjust="spacingAndGlyphs">1.02320</text><line x1="990.5" y1="575.2" x2="992.5" y2="575.2"/><text stroke="#1a1a1a" stroke-width="0.2" x="993.6" y="577.3" textLength="17.3" lengthAdjust="spacingAndGlyphs">1.02040</text></g></g>
<g font-size="6"><rect x="991" y="205.3" width="22" height="5.4" fill="#9b30e8"/><text x="993.6" y="210.1" fill="#fff" textLength="17.3" lengthAdjust="spacingAndGlyphs">1.08000</text><rect x="991" y="266.8" width="22" height="5.4" fill="#9b30e8"/><text x="993.6" y="271.6" fill="#fff" textLength="17.3" lengthAdjust="spacingAndGlyphs">1.07000</text><rect x="991" y="328.4" width="22" height="5.4" fill="#9b30e8"/><text x="993.6" y="333.2" fill="#fff" textLength="17.3" lengthAdjust="spacingAndGlyphs">1.06000</text><rect x="991" y="389.9" width="22" height="5.4" fill="#9b30e8"/><text x="993.6" y="394.7" fill="#fff" textLength="17.3" lengthAdjust="spacingAndGlyphs">1.05000</text><rect x="991" y="451.5" width="22" height="5.4" fill="#9b30e8"/><text x="993.6" y="456.3" fill="#fff" textLength="17.3" lengthAdjust="spacingAndGlyphs">1.04000</text><rect x="991" y="513.0" width="22" height="5.4" fill="#9b30e8"/><text x="993.6" y="517.8" fill="#fff" textLength="17.3" lengthAdjust="spacingAndGlyphs">1.03000</text></g>
<rect x="991" y="236.6" width="22" height="5.3" fill="#111"/><text x="993.6" y="241.3" font-size="6" fill="#fff" textLength="17.3" lengthAdjust="spacingAndGlyphs">1.07505</text>
<g font-size="6" fill="#2a2a2a"><g stroke="#555" stroke-width="1"><line x1="11.2" y1="576" x2="11.2" y2="578"/><text stroke="none" x="11.5" y="583.4" font-size="5.9" textLength="25.6" lengthAdjust="spacingAndGlyphs">9 May 2022</text><line x1="45.0" y1="576" x2="45.0" y2="578"/><text stroke="none" x="45.3" y="583.4" font-size="5.9" textLength="30.3" lengthAdjust="spacingAndGlyphs">10 May 10:00</text><line x1="78.7" y1="576" x2="78.7" y2="578"/><text stroke="none" x="79.0" y="583.4" font-size="5.9" textLength="30.3" lengthAdjust="spacingAndGlyphs">11 May 02:00</text><line x1="111.7" y1="576" x2="111.7" y2="578"/><text stroke="none" x="112.0" y="583.4" font-size="5.9" textLength="30.3" lengthAdjust="spacingAndGlyphs">11 May 18:00</text><line x1="145.3" y1="576" x2="145.3" y2="578"/><text stroke="none" x="145.6" y="583.4" font-size="5.9" textLength="30.3" lengthAdjust="spacingAndGlyphs">12 May 10:00</text><line x1="179.0" y1="576" x2="179.0" y2="578"/><text stroke="none" x="179.3" y="583.4" font-size="5.9" textLength="30.3" lengthAdjust="spacingAndGlyphs">13 May 02:00</text><line x1="212.3" y1="576" x2="212.3" y2="578"/><text stroke="none" x="212.6" y="583.4" font-size="5.9" textLength="30.3" lengthAdjust="spacingAndGlyphs">13 May 18:00</text><line x1="245.9" y1="576" x2="245.9" y2="578"/><text stroke="none" x="246.2" y="583.4" font-size="5.9" textLength="30.3" lengthAdjust="spacingAndGlyphs">16 May 10:00</text><line x1="279.6" y1="576" x2="279.6" y2="578"/><text stroke="none" x="279.9" y="583.4" font-size="5.9" textLength="30.3" lengthAdjust="spacingAndGlyphs">17 May 02:00</text><line x1="313.2" y1="576" x2="313.2" y2="578"/><text stroke="none" x="313.5" y="583.4" font-size="5.9" textLength="30.3" lengthAdjust="spacingAndGlyphs">17 May 18:00</text><line x1="346.8" y1="576" x2="346.8" y2="578"/><text stroke="none" x="347.1" y="583.4" font-size="5.9" textLength="30.3" lengthAdjust="spacingAndGlyphs">18 May 10:00</text><line x1="380.2" y1="576" x2="380.2" y2="578"/><text stroke="none" x="380.5" y="583.4" font-size="5.9" textLength="30.3" lengthAdjust="spacingAndGlyphs">19 May 02:00</text><line x1="413.8" y1="576" x2="413.8" y2="578"/><text stroke="none" x="414.1" y="583.4" font-size="5.9" textLength="30.3" lengthAdjust="spacingAndGlyphs">19 May 18:00</text><line x1="447.2" y1="576" x2="447.2" y2="578"/><text stroke="none" x="447.5" y="583.4" font-size="5.9" textLength="30.3" lengthAdjust="spacingAndGlyphs">20 May 10:00</text><line x1="480.8" y1="576" x2="480.8" y2="578"/><text stroke="none" x="481.1" y="583.4" font-size="5.9" textLength="30.3" lengthAdjust="spacingAndGlyphs">23 May 02:00</text><line x1="514.4" y1="576" x2="514.4" y2="578"/><text stroke="none" x="514.7" y="583.4" font-size="5.9" textLength="30.3" lengthAdjust="spacingAndGlyphs">23 May 18:00</text><line x1="548.0" y1="576" x2="548.0" y2="578"/><text stroke="none" x="548.3" y="583.4" font-size="5.9" textLength="30.3" lengthAdjust="spacingAndGlyphs">24 May 10:00</text><line x1="581.6" y1="576" x2="581.6" y2="578"/><text stroke="none" x="581.9" y="583.4" font-size="5.9" textLength="30.3" lengthAdjust="spacingAndGlyphs">25 May 02:00</text><line x1="615.2" y1="576" x2="615.2" y2="578"/><text stroke="none" x="615.5" y="583.4" font-size="5.9" textLength="30.3" lengthAdjust="spacingAndGlyphs">25 May 18:00</text><line x1="648.7" y1="576" x2="648.7" y2="578"/><text stroke="none" x="649.0" y="583.4" font-size="5.9" textLength="30.3" lengthAdjust="spacingAndGlyphs">26 May 10:00</text><line x1="682.1" y1="576" x2="682.1" y2="578"/><text stroke="none" x="682.4" y="583.4" font-size="5.9" textLength="30.3" lengthAdjust="spacingAndGlyphs">27 May 02:00</text><line x1="715.7" y1="576" x2="715.7" y2="578"/><text stroke="none" x="716.0" y="583.4" font-size="5.9" textLength="30.3" lengthAdjust="spacingAndGlyphs">27 May 18:00</text><line x1="749.3" y1="576" x2="749.3" y2="578"/><text stroke="none" x="749.6" y="583.4" font-size="5.9" textLength="30.3" lengthAdjust="spacingAndGlyphs">30 May 10:00</text><line x1="782.7" y1="576" x2="782.7" y2="578"/><text stroke="none" x="783.0" y="583.4" font-size="5.9" textLength="30.3" lengthAdjust="spacingAndGlyphs">31 May 02:00</text></g></g>
<!-- annotations -->
<text x="88.2" y="344.6" font-size="9" fill="#dc5050" textLength="26.9" lengthAdjust="spacingAndGlyphs">CPI AS</text>
<text x="581" y="314.3" font-size="9.5" fill="#dc4c4c" textLength="43.2" lengthAdjust="spacingAndGlyphs">Minit FOMC</text>
<text x="642" y="252.6" font-size="9.5" fill="#dc4c4c" textLength="31" lengthAdjust="spacingAndGlyphs">GDP AS</text>
<text x="184.9" y="525.6" font-size="10.3" fill="#3434c4" textLength="31.7" lengthAdjust="spacingAndGlyphs">Jumaat</text>
<text x="387.9" y="525.6" font-size="10.3" fill="#3434c4" textLength="32.2" lengthAdjust="spacingAndGlyphs">Khamis</text>
<text x="594.1" y="525.4" font-size="10.3" fill="#3434c4" textLength="22.9" lengthAdjust="spacingAndGlyphs">Rabu</text>
<text x="900.9" y="141" font-size="17" font-weight="bold" fill="#741c88" stroke="#741c88" stroke-width="0.7" textLength="85.6" lengthAdjust="spacingAndGlyphs">Resistance</text>
<text x="902.7" y="223.4" font-size="17" font-weight="bold" fill="#861414" stroke="#861414" stroke-width="0.7" textLength="85.7" lengthAdjust="spacingAndGlyphs">Resistance</text>
<text x="916.8" y="326.4" font-size="17.6" font-weight="bold" fill="#1212c4" stroke="#1212c4" stroke-width="0.7" textLength="70.4" lengthAdjust="spacingAndGlyphs">RBS zone</text>
<text x="925.6" y="511" font-size="17.6" font-weight="bold" fill="#3b8a86" stroke="#3b8a86" stroke-width="0.7" textLength="61" lengthAdjust="spacingAndGlyphs">Support</text>
<!-- arrows -->
<g stroke="#1a9a2a" stroke-width="4.6" stroke-dasharray="8 8.5" fill="none"><path d="M805.8 188.2 L822.2 150.3"/></g>
<path d="M825.3 141.9 L814.6 148.5 L822.3 148.3 L827.7 155 Z" fill="#1a9a2a"/>
<g stroke="#e0141e" stroke-width="4.6" fill="none"><path d="M803.1 289.4 L811.7 311.8" stroke-dasharray="8 8.5"/><path d="M823.8 354.2 L833 376.6" stroke-dasharray="8 8"/></g>
<path d="M815.3 323.5 L804.9 315.1 L813.3 317.6 L818.6 310.5 Z" fill="#e0141e"/>
<path d="M835.9 383.9 L825.6 377.3 L833.4 378.8 L838.7 371.7 Z" fill="#e0141e"/>
</svg>
</body></html>
